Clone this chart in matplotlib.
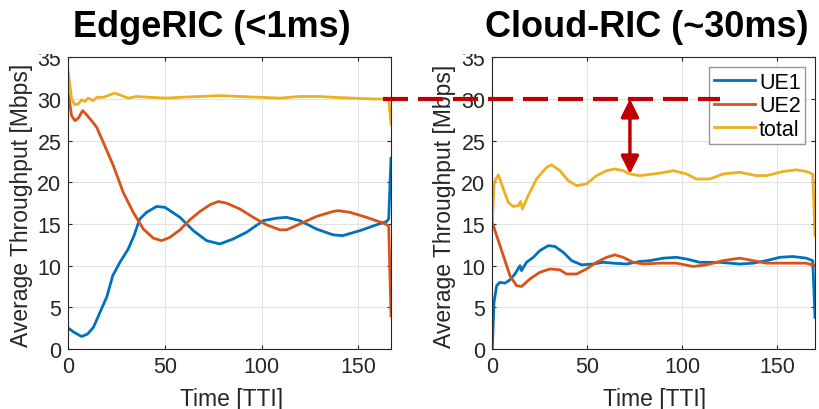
import numpy as np
import matplotlib.pyplot as plt
from matplotlib.lines import Line2D
from matplotlib.patches import Rectangle

plt.rcParams['font.family'] = ['Liberation Sans', 'DejaVu Sans']

# ---- EdgeRIC panel data ----
e_ue1_x = [0, 3, 6.9, 10, 13, 16.4, 20, 23, 26.7, 31, 34, 37, 40.5, 45.7, 50, 52.6, 57.8, 64.7, 71.6, 78.4,
           85.3, 92.2, 100.9, 107.8, 112.9, 119.8, 128.4, 137, 142, 150.9, 159.5, 164.7, 165.8, 167]
e_ue1_y = [2.5, 2.0, 1.5, 1.8, 2.6, 4.4, 6.3, 8.8, 10.4, 12.0, 13.6, 15.6, 16.4, 17.1, 17.0, 16.6, 15.8, 14.2, 13.0, 12.6,
           13.2, 14.0, 15.4, 15.7, 15.8, 15.4, 14.4, 13.7, 13.6, 14.2, 14.9, 15.3, 15.6, 22.9]

e_ue2_x = [0, 1.7, 3.4, 5.2, 7.4, 9.5, 12, 14.7, 18.1, 23.3, 28.4, 33.6, 38.8, 44, 48.3, 52.6, 57.8, 62.9, 68.1,
           73.3, 77.6, 81.9, 88.8, 95.7, 102.6, 109.5, 113, 119.8, 128.4, 137, 139.7, 145.7, 154.3, 163, 165.8, 167]
e_ue2_y = [30.6, 28.0, 27.4, 27.7, 28.6, 28.1, 27.4, 26.6, 24.8, 22.0, 18.8, 16.4, 14.4, 13.3, 13.0, 13.4, 14.3, 15.5, 16.5,
           17.3, 17.7, 17.5, 16.8, 15.8, 14.9, 14.3, 14.3, 15.0, 15.9, 16.5, 16.6, 16.4, 15.8, 15.1, 14.8, 4.0]

e_tot_x = [0, 1.7, 3.4, 5.2, 6.9, 8.6, 10.3, 12.9, 14.7, 18, 21.6, 24.1, 27.6, 31, 35.3, 42.2, 50.9, 57.8, 68.1,
           78.4, 88.8, 99.1, 109.5, 119.8, 130.2, 137, 147.4, 157.8, 165.8, 167]
e_tot_y = [33.2, 30.0, 29.3, 29.4, 29.9, 29.7, 30.1, 29.8, 30.2, 30.2, 30.5, 30.7, 30.4, 30.1, 30.3, 30.2, 30.1, 30.2, 30.3,
           30.4, 30.3, 30.2, 30.1, 30.3, 30.3, 30.2, 30.1, 30.0, 30.0, 27.0]

# ---- Cloud-RIC panel data ----
c_ue1_x = [0, 0.9, 2.3, 4, 6.7, 9.3, 11.9, 14.6, 15.4, 18, 21.6, 25, 29.5, 33, 37.4, 41.8, 47, 53.2, 58.4, 63.7,
           70.7, 77.7, 83, 90, 97, 102.3, 109.3, 119.8, 130.4, 137.4, 144.4, 151.4, 158.4, 165.4, 168.8, 170]
c_ue1_y = [0.0, 5.6, 7.6, 8.0, 7.9, 8.3, 9.0, 10.0, 9.4, 10.4, 11.0, 11.8, 12.4, 12.3, 11.6, 10.6, 10.1, 10.2, 10.4, 10.3,
           10.2, 10.5, 10.6, 10.9, 11.0, 10.8, 10.4, 10.4, 10.2, 10.3, 10.6, 11.0, 11.1, 10.9, 10.6, 3.8]

c_ue2_x = [0, 2.3, 5.8, 9.3, 12.8, 15.4, 19.8, 25, 30.4, 35.6, 39.1, 44.4, 49.6, 54.9, 60.2, 64.6, 68.9, 74.2,
           79.5, 88.2, 97, 105.8, 112.8, 121.6, 130.4, 137.4, 144.4, 154.9, 165.4, 170]
c_ue2_y = [15.2, 13.6, 11.2, 8.8, 7.6, 7.5, 8.4, 9.2, 9.6, 9.5, 9.0, 9.0, 9.6, 10.4, 11.0, 11.3, 11.0, 10.4,
           10.2, 10.3, 10.3, 9.9, 10.1, 10.6, 10.9, 10.6, 10.3, 10.3, 10.3, 10.0]

c_tot_x = [0, 1, 3.2, 5.8, 8.4, 11, 13.7, 14.9, 15.8, 18.9, 23.3, 28.6, 31.2, 35.6, 40, 44.4, 49.6, 54.9, 60.2,
           64.6, 68.9, 72.5, 77.7, 81.2, 88.2, 95.3, 102.3, 107.5, 114.6, 121.6, 130.4, 139.1, 144.4, 153.2,
           160.2, 165.4, 168.8, 170]
c_tot_y = [15.2, 20.0, 20.9, 19.2, 17.6, 17.1, 17.2, 17.7, 16.8, 18.4, 20.4, 21.8, 22.1, 21.4, 20.2, 19.6, 19.8, 20.8, 21.4,
           21.6, 21.4, 21.0, 20.8, 20.9, 21.1, 21.4, 21.0, 20.4, 20.4, 21.0, 21.2, 20.8, 20.8, 21.3,
           21.5, 21.3, 21.0, 13.6]

target = 30
gap_low = 21
arrow_t = 72.5

c1, c2, c3 = '#0072BD', '#D95319', '#EDB120'
red = '#C00000'

W, H = 819, 410
fig = plt.figure(figsize=(W / 100, H / 100), dpi=100)


def px(x0, y0, x1, y1):
    return [x0 / W, 1 - y1 / H, (x1 - x0) / W, (y1 - y0) / H]


ax1 = fig.add_axes(px(68.3, 58.3, 391, 350))
ax2 = fig.add_axes(px(492.3, 58.3, 815, 350))

for ax, xmax in [(ax1, 167), (ax2, 170)]:
    ax.set_xlim(0, xmax)
    ax.set_ylim(0, 35)
    ax.set_xticks([0, 50, 100, 150])
    ax.set_yticks(range(0, 36, 5))
    ax.grid(True, color='#e3e3e3', lw=0.8)
    ax.set_axisbelow(True)
    ax.tick_params(direction='in', length=3, labelsize=15.5, colors='#262626',
                   top=True, right=True, pad=5)
    for s in ax.spines.values():
        s.set_color('#262626')
        s.set_linewidth(0.8)

ax1.plot(e_ue1_x, e_ue1_y, color=c1, lw=2)
ax1.plot(e_ue2_x, e_ue2_y, color=c2, lw=2)
ax1.plot(e_tot_x, e_tot_y, color=c3, lw=2)

ax2.plot(c_ue1_x, c_ue1_y, color=c1, lw=2, label='UE1')
ax2.plot(c_ue2_x, c_ue2_y, color=c2, lw=2, label='UE2')
ax2.plot(c_tot_x, c_tot_y, color=c3, lw=2, label='total')

leg = ax2.legend(loc='upper right', bbox_to_anchor=(0.969, 0.966), fontsize=15.5, frameon=True,
                 fancybox=False, handlelength=1.9, handletextpad=0.2, borderpad=0.2,
                 labelspacing=0.12, borderaxespad=0)
leg.get_frame().set_edgecolor('#7f7f7f')
leg.get_frame().set_linewidth(1.0)

ax2.annotate('', xy=(arrow_t, target), xytext=(arrow_t, gap_low),
             arrowprops=dict(arrowstyle='<|-|>', color=red, lw=2.5, mutation_scale=27,
                             shrinkA=0, shrinkB=0))

# white band at the very top clips the "35" labels like in the original
fig.patches.append(Rectangle((0, 1 - 54.5 / H), 1, 54.5 / H, transform=fig.transFigure,
                             facecolor='white', edgecolor='none', zorder=1))

# dashed 30 Mbps reference spanning both panels
ydash = ax1.transData.transform((0, target))[1] / H
dash = Line2D([382.7 / W, 720 / W], [ydash, ydash], transform=fig.transFigure,
              color=red, lw=3, dash_capstyle='butt', zorder=5)
dash.set_linestyle((0, (6, 2.4)))
fig.add_artist(dash)

fig.text(73 / W, 1 - 37 / H, 'EdgeRIC (<1ms)', fontsize=26, fontweight='bold', ha='left', va='baseline')
fig.text(485 / W, 1 - 37 / H, 'Cloud-RIC (~30ms)', fontsize=26, fontweight='bold', ha='left', va='baseline')

fig.text(22 / W, 1 - 205 / H, 'Average Throughput [Mbps]', rotation=90, fontsize=16.5,
         ha='center', va='center', color='#262626')
fig.text(445 / W, 1 - 206 / H, 'Average Throughput [Mbps]', rotation=90, fontsize=16.5,
         ha='center', va='center', color='#262626')
fig.text(231.5 / W, 1 - 406.5 / H, 'Time [TTI]', fontsize=16.5, ha='center', va='baseline', color='#262626')
fig.text(655 / W, 1 - 406.5 / H, 'Time [TTI]', fontsize=16.5, ha='center', va='baseline', color='#262626')

fig.savefig('out.png', dpi=100)
